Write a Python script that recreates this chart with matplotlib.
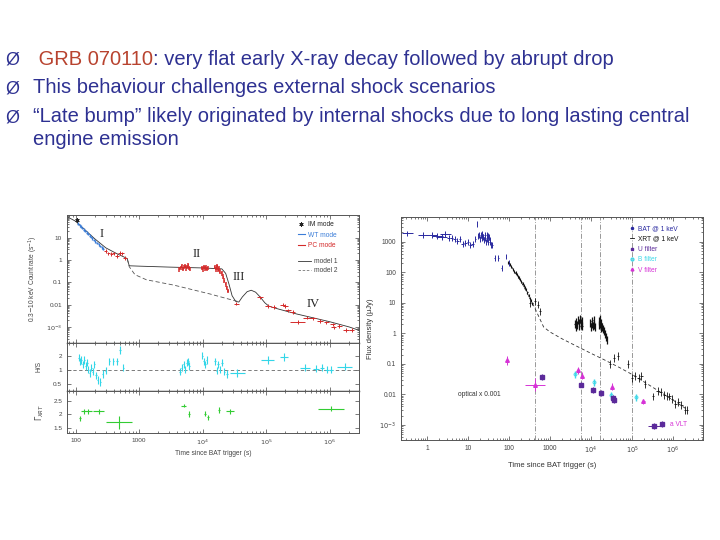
import numpy as np
import matplotlib
matplotlib.use("Agg")
import matplotlib.pyplot as plt
from matplotlib.ticker import FixedLocator, FixedFormatter, NullFormatter, NullLocator
from matplotlib.lines import Line2D

plt.rcParams['font.family'] = ['Liberation Sans', 'DejaVu Sans']

# ---------------- slide text ----------------
bullets = [
    [(" GRB 070110", "#B8432F"), (": very flat early X-ray decay followed by abrupt drop", "#2E3192")],
    [("This behaviour challenges external shock scenarios", "#2E3192")],
    [("\u201cLate bump\u201d likely originated by internal shocks due to long lasting central", "#2E3192")],
    [("engine emission", "#2E3192")],
]
bullet_marks = [True, True, True, False]

# ---------------- left figure: XRT count rate ----------------
im_t = [106]
im_r = [60]

wt_t = [110, 116, 122, 128, 135, 142, 150, 158, 166, 175, 185, 195, 206, 218, 230, 243, 257, 272]
wt_r = [42, 36, 31, 27, 23, 20, 17, 14.5, 12.5, 10.8, 9.2, 7.9, 6.7, 5.8, 5.0, 4.3, 3.7, 3.2]

pc1_t = [300, 330, 365, 400, 450, 500, 540, 600]
pc1_r = [2.6, 2.0, 1.9, 2.0, 1.5, 2.1, 2.0, 1.2]

pc2_t = [4300, 4500, 4700, 4900, 5100, 5300, 5500, 5700, 5900, 6100, 6300,
         9600, 10000, 10400, 10800, 11200, 11600, 12000,
         15500, 16000, 16500, 17000, 17500, 18000, 18500,
         20000, 21000, 22000, 23000, 24000, 25000]
pc2_r = [0.38, 0.45, 0.52, 0.40, 0.48, 0.55, 0.42, 0.50, 0.58, 0.44, 0.40,
         0.45, 0.38, 0.48, 0.42, 0.46, 0.39, 0.44,
         0.50, 0.38, 0.46, 0.55, 0.35, 0.42, 0.30,
         0.25, 0.18, 0.12, 0.08, 0.055, 0.04]

pc3_t = [3.4e4, 8.0e4, 1.05e5, 1.3e5, 1.8e5, 2.0e5, 2.2e5, 2.6e5, 3.1e5, 4.4e5,
         5.5e5, 7.0e5, 8.8e5, 1.1e6, 1.15e6, 1.4e6, 1.8e6, 2.2e6]
pc3_r = [0.011, 0.021, 0.0085, 0.0078, 0.010, 0.0085, 0.0055, 0.0046, 0.0017, 0.0026,
         0.0024, 0.0018, 0.0016, 0.0013, 0.00095, 0.0011, 0.00072, 0.00072]
pc3_xf = [1.1, 1.12, 1.12, 1.1, 1.08, 1.08, 1.1, 1.1, 1.3, 1.15,
          1.12, 1.12, 1.1, 1.1, 1.1, 1.1, 1.1, 1.1]

m1_t = [74, 100, 200, 300, 450, 600, 650, 700, 1000, 3000, 1e4, 2e4, 2.3e4, 2.6e4, 2.9e4,
        3.3e4, 3.7e4, 4.2e4, 5e4, 5.8e4, 6.8e4, 8e4, 9.5e4, 1.1e5, 1.5e5, 3e5, 6e5, 1e6, 2e6, 2.9e6]
m1_r = [87, 55, 9, 3.5, 1.9, 1.3, 1.15, 0.55, 0.53, 0.48, 0.44, 0.40, 0.25, 0.08, 0.025,
        0.014, 0.013, 0.022, 0.038, 0.044, 0.036, 0.022, 0.012, 0.0085, 0.0065, 0.0038,
        0.0024, 0.0017, 0.0010, 0.0007]

m2_t = [650, 700, 860, 1300, 3500, 1.3e4, 2.7e4, 3.5e4]
m2_r = [1.15, 0.5, 0.22, 0.13, 0.075, 0.03, 0.017, 0.014]

numeral_text = ["I", "II", "III", "IV"]
numeral_t = [260, 8100, 3.7e4, 5.4e5]
numeral_r = [15, 1.9, 0.17, 0.011]

hr_t = [112, 118, 124, 130, 137, 144, 152, 160, 168, 177, 187, 198, 210, 225, 245, 270, 300,
        340, 390, 450, 500, 560,
        4400, 4700, 5000, 5300, 5600, 5900, 6200, 9800, 10400, 11000, 11600,
        15500, 16500, 17500, 18500, 20000, 22000, 24000, 3.5e4,
        1.05e5, 1.9e5, 4e5, 6e5, 7.5e5, 9e5, 1.05e6, 1.7e6]
hr_v = [1.8, 1.5, 1.6, 1.3, 1.6, 1.2, 1.4, 1.0, 0.85, 1.1, 0.9, 1.3, 0.75, 0.6, 0.55, 0.8, 0.95,
        1.5, 1.5, 1.5, 2.6, 1.1,
        0.9, 1.1, 1.3, 1.0, 1.4, 1.5, 1.2, 2.0, 1.5, 1.3, 1.6,
        1.5, 0.95, 1.3, 1.0, 1.4, 0.9, 0.8, 0.85,
        1.6, 1.85, 1.1, 1.05, 1.1, 1.0, 1.0, 1.15]
hr_xf = [1.02] * 22 + [1.02] * 11 + [1.03] * 7 + [1.3] + [1.25, 1.15, 1.2, 1.12, 1.08, 1.08, 1.08, 1.3]

g_t = [118, 135, 160, 230, 480, 5000, 6100, 11000, 12000, 18000, 27000, 1.05e6]
g_v = [1.85, 2.1, 2.1, 2.1, 1.7, 2.32, 2.0, 2.02, 1.88, 2.15, 2.1, 2.2]
g_xf = [1.03, 1.1, 1.15, 1.2, 1.6, 1.1, 1.05, 1.04, 1.04, 1.04, 1.15, 1.6]
g_ye = [0.1, 0.1, 0.08, 0.1, 0.25, 0.07, 0.1, 0.1, 0.1, 0.1, 0.08, 0.1]

# ---------------- right figure: flux density ----------------
bat_t = [0.33, 0.8, 1.3, 1.8, 2.3, 2.8, 3.4, 4.0, 4.7, 5.5, 6.4, 7.4, 8.6, 10, 11.5, 13, 15,
         16.5, 17.5, 18.5, 19.5, 20.5, 21.5, 22.5, 23.5, 24.5, 25.5, 26.5, 27.5, 28.5, 29.5,
         30.5, 31.5, 32.5, 33.5, 35, 37, 39, 45, 55, 66, 85, 100]
bat_f = [1850, 1650, 1650, 1550, 1400, 1750, 1300, 1350, 1250, 1050, 1200, 850, 900, 1000,
         750, 850, 1200, 3900, 1500, 1700, 1200, 1600, 1300, 1800, 1400, 1100, 1600, 1350,
         1000, 1700, 1200, 1500, 950, 1400, 1100, 1000, 800, 750, 290, 300, 135, 325, 196]

xrt1_t = [96, 105, 115, 125, 135, 145, 155, 165, 175, 185, 200, 215, 230, 245, 260, 280, 300, 320, 345, 370]
xrt1_f = [200, 175, 150, 125, 105, 95, 85, 72, 65, 58, 48, 42, 36, 31, 27, 22, 17, 14, 11.5, 9.5]

xrt2_t = [330, 430, 510, 570]
xrt2_f = [9.5, 11, 8.5, 5.2]

xrt3_t = [4000, 4200, 4400, 4600, 4800, 5000, 5200, 5400, 5600, 5800, 6000, 6200,
          9600, 10000, 10400, 10800, 11200, 11600, 12000, 12400,
          15500, 16000, 16500, 17000, 17500, 18000, 19000, 20000, 21000, 22000, 23000, 24000]
xrt3_f = [2.0, 1.6, 2.4, 1.8, 2.8, 2.1, 1.7, 3.0, 2.2, 1.8, 2.6, 1.7,
          2.2, 1.6, 2.6, 2.0, 1.7, 2.8, 1.9, 1.6,
          2.5, 1.8, 2.9, 2.0, 1.5, 2.2, 1.6, 1.4, 1.2, 0.95, 0.75, 0.6]

xrt4_t = [2.9e4, 3.7e4, 4.5e4, 8e4, 1.0e5, 1.2e5, 1.45e5, 1.7e5, 2.1e5, 3.3e5, 4.2e5, 5.0e5,
          6.2e5, 7.2e5, 8.2e5, 9.5e5, 1.15e6, 1.35e6, 1.6e6, 1.95e6, 2.2e6]
xrt4_f = [0.1, 0.15, 0.18, 0.1, 0.035, 0.04, 0.035, 0.04, 0.022, 0.0085, 0.013, 0.012,
          0.0095, 0.009, 0.0085, 0.007, 0.005, 0.0055, 0.0045, 0.003, 0.003]

mod_t = [100, 200, 300, 420, 550, 700, 1000, 2000, 5000, 1e4, 2e4, 5e4, 1e5, 3e5, 1e6, 2e6]
mod_f = [200, 48, 17, 7, 3.2, 1.6, 1.1, 0.65, 0.35, 0.22, 0.14, 0.075, 0.045, 0.018, 0.0065, 0.0035]

vline_t = [430, 5700, 1.7e4, 1.0e5]

v_t = [90, 430, 4700, 6000, 3.2e4, 1.9e5]
v_f = [0.13, 0.021, 0.062, 0.04, 0.018, 0.006]
v_xf = [1.05, 1.8, 1.05, 1.05, 1.05, 1.1]
v_yf = [1.4, 1.6, 1.3, 1.3, 1.3, 1.2]

b_t = [4100, 1.2e4, 3e4, 1.25e5]
b_f = [0.045, 0.025, 0.0095, 0.008]

u_t = [650, 5600, 1.1e4, 1.8e4, 3.4e4, 3.6e4, 3.4e5, 5.4e5]
u_f = [0.036, 0.021, 0.014, 0.011, 0.0075, 0.0065, 0.00092, 0.0011]
u_xf = [1.05, 1.05, 1.05, 1.05, 1.05, 1.05, 1.4, 1.1]

# ---------------- colours ----------------
C_WT = "#3B7DD8"
C_PC = "#D42A2A"
C_HR = "#33D6E8"
C_G = "#33CC33"
C_BAT = "#2A2AA0"
C_U = "#5B2A9A"
C_B = "#3FD8E8"
C_V = "#D633D6"
TICKC = "#444444"


def cross(ax, t, v, fx, fy, color, lw=0.7, logy=True):
    """Error-bar crosses, multiplicative errors in x (and y when logy)."""
    t = np.asarray(t, float)
    v = np.asarray(v, float)
    fx = np.asarray(fx, float)
    xe = [t - t / fx, t * fx - t]
    if logy:
        fy = np.asarray(fy, float)
        ye = [v - v / fy, v * fy - v]
    else:
        ye = fy
    ax.errorbar(t, v, xerr=xe, yerr=ye, fmt='none', ecolor=color, elinewidth=lw, capsize=0)


def style_axes(ax, fs=4.6):
    ax.tick_params(which='both', direction='in', top=True, right=True,
                   labelsize=fs, colors=TICKC, width=0.5)
    ax.tick_params(which='major', length=3)
    ax.tick_params(which='minor', length=1.6)
    for s in ax.spines.values():
        s.set_linewidth(0.7)
        s.set_color("#555555")


fig = plt.figure(figsize=(7.2, 5.4), dpi=100)
fig.patch.set_facecolor("white")

# text layer (pixel coordinates)
tax = fig.add_axes([0, 0, 1, 1])
tax.set_xlim(0, 720)
tax.set_ylim(540, 0)
tax.axis('off')
tax.patch.set_visible(False)

baselines = [64.8, 93.2, 122.5, 145.3]
renderer = fig.canvas.get_renderer()
for parts, y, mark in zip(bullets, baselines, bullet_marks):
    if mark:
        tax.text(5, y, "\u00d8", fontsize=13, color="#2E3192", va='baseline', ha='left')
    x = 33
    for s, c in parts:
        t = tax.text(x, y, s, fontsize=14.5, color=c, va='baseline', ha='left')
        bb = t.get_window_extent(renderer=renderer)
        x = bb.x1

# ---- left figure axes ----
L, W = 67 / 720, 292 / 720
ax1 = fig.add_axes([L, (540 - 343) / 540, W, 128 / 540])
ax2 = fig.add_axes([L, (540 - 391) / 540, W, 48 / 540], sharex=ax1)
ax3 = fig.add_axes([L, (540 - 433) / 540, W, 42 / 540], sharex=ax1)

for ax in (ax1, ax2, ax3):
    ax.set_xscale('log')
    style_axes(ax)
ax1.set_xlim(73.5, 2.87e6)

ax1.set_yscale('log')
ax1.set_ylim(1.9e-4, 104)
ax1.plot(m1_t, m1_r, color="#333333", lw=0.6)
ax1.plot(m2_t, m2_r, color="#555555", lw=0.6, ls=(0, (5, 3)))
cross(ax1, wt_t, wt_r, 1.03, 1.15, C_WT, lw=0.9)
ax1.plot(im_t, im_r, marker=(6, 2, 0), color="#222222", ms=3, mew=0.6, ls='none')
cross(ax1, pc1_t, pc1_r, 1.06, 1.2, C_PC, lw=0.7)
cross(ax1, pc2_t, pc2_r, 1.02, 1.25, C_PC, lw=1.1)
cross(ax1, pc3_t, pc3_r, pc3_xf, 1.2, C_PC, lw=0.7)
for s, t, r in zip(numeral_text, numeral_t, numeral_r):
    ax1.text(t, r, s, family='Liberation Serif', fontsize=9, color="#222222",
             ha='center', va='center')
ax1.yaxis.set_major_locator(FixedLocator([1e-3, 1e-2, 0.1, 1, 10]))
ax1.yaxis.set_major_formatter(FixedFormatter([r"$10^{-3}$", "0.01", "0.1", "1", "10"]))
ax1.set_ylabel(r"0.3$-$10 keV Count rate (s$^{-1}$)", fontsize=4.8, color=TICKC, labelpad=4)
plt.setp(ax1.get_xticklabels(), visible=False)

h1 = [Line2D([], [], marker=(6, 2, 0), color="#222222", ls='none', ms=3, mew=0.6),
      Line2D([], [], color=C_WT, lw=0.8),
      Line2D([], [], color=C_PC, lw=0.8)]
leg1 = ax1.legend(h1, ["IM mode", "WT mode", "PC mode"], loc='upper left',
                  bbox_to_anchor=(0.77, 1.0), fontsize=4.8, frameon=False,
                  handlelength=1.0, handletextpad=0.5, labelspacing=0.55,
                  labelcolor=["#222222", C_WT, C_PC])
ax1.add_artist(leg1)
h2 = [Line2D([], [], color="#333333", lw=0.6),
      Line2D([], [], color="#777777", lw=0.6, ls=(0, (3, 2)))]
ax1.legend(h2, ["model 1", "model 2"], loc='upper left', bbox_to_anchor=(0.77, 0.71),
           fontsize=4.8, frameon=False, handlelength=2.0, handletextpad=0.4,
           labelspacing=0.3, labelcolor="#444444")

ax2.set_yscale('log')
ax2.set_ylim(0.35, 3.7)
ax2.axhline(1.0, color="#666666", lw=0.6, ls=(0, (4, 3)))
cross(ax2, hr_t, hr_v, hr_xf, 1.2, C_HR, lw=0.8)
ax2.yaxis.set_major_locator(FixedLocator([0.5, 1, 2]))
ax2.yaxis.set_major_formatter(FixedFormatter(["0.5", "1", "2"]))
ax2.yaxis.set_minor_locator(NullLocator())
ax2.yaxis.set_minor_formatter(NullFormatter())
ax2.set_ylabel("H/S", fontsize=4.8, color=TICKC, labelpad=8)
plt.setp(ax2.get_xticklabels(), visible=False)

ax3.set_ylim(1.3, 2.86)
cross(ax3, g_t, g_v, g_xf, g_ye, C_G, lw=0.8, logy=False)
ax3.yaxis.set_major_locator(FixedLocator([1.5, 2, 2.5]))
ax3.yaxis.set_major_formatter(FixedFormatter(["1.5", "2", "2.5"]))
ax3.set_ylabel(r"$\Gamma_{XRT}$", fontsize=5.5, color=TICKC, labelpad=5)
ax3.xaxis.set_major_locator(FixedLocator([100, 1000, 1e4, 1e5, 1e6]))
ax3.xaxis.set_major_formatter(FixedFormatter(["100", "1000", r"$10^4$", r"$10^5$", r"$10^6$"]))
ax3.xaxis.set_minor_formatter(NullFormatter())
ax3.set_xlabel("Time since BAT trigger (s)", fontsize=4.8, color=TICKC, labelpad=2)
for ax in (ax1, ax2):
    ax.spines['bottom'].set_linewidth(1.0)
    ax.spines['bottom'].set_color("#222222")

# ---- right figure axes ----
axr = fig.add_axes([401 / 720, 100 / 540, 302 / 720, 223 / 540])
axr.set_xscale('log')
axr.set_yscale('log')
style_axes(axr, fs=4.8)
axr.set_xlim(0.232, 5.4e6)
axr.set_ylim(3.2e-4, 6400)
for t in vline_t:
    axr.axvline(t, color="#888888", lw=0.6, ls=(0, (6, 2, 1, 2)))
axr.plot(mod_t, mod_f, color="#333333", lw=0.6, ls=(0, (4, 3)))
bt = np.asarray(bat_t)
bat_xf = np.where(bt < 3, 1.35, np.where(bt < 15, 1.08, 1.02))
cross(axr, bat_t, bat_f, bat_xf, 1.25, C_BAT, lw=0.7)
cross(axr, xrt1_t, xrt1_f, 1.02, 1.12, "#111111", lw=0.8)
cross(axr, xrt2_t, xrt2_f, 1.05, 1.3, "#111111", lw=0.6)
cross(axr, xrt3_t, xrt3_f, 1.015, 1.35, "#111111", lw=0.9)
cross(axr, xrt4_t, xrt4_f, 1.07, 1.35, "#111111", lw=0.6)
cross(axr, b_t, b_f, 1.04, 1.3, C_B, lw=1.0)
axr.plot(b_t, b_f, 'o', mfc='none', mec=C_B, ms=2.2, mew=0.6)
cross(axr, u_t, u_f, u_xf, 1.25, C_U, lw=0.7)
axr.plot(u_t, u_f, 's', color=C_U, ms=2.2)
cross(axr, v_t, v_f, v_xf, v_yf, C_V, lw=0.7)
axr.plot(v_t, v_f, '^', color=C_V, ms=2.6)
axr.text(5.8, 0.01, "optical x 0.001", fontsize=4.8, color="#333333", ha='left', va='center')
axr.text(8.5e5, 0.001, "a VLT", fontsize=4.8, color=C_V, ha='left', va='center')
axr.xaxis.set_major_locator(FixedLocator([1, 10, 100, 1000, 1e4, 1e5, 1e6]))
axr.xaxis.set_major_formatter(FixedFormatter(["1", "10", "100", "1000", r"$10^4$", r"$10^5$", r"$10^6$"]))
axr.xaxis.set_minor_formatter(NullFormatter())
axr.yaxis.set_major_locator(FixedLocator([1e-3, 1e-2, 0.1, 1, 10, 100, 1000]))
axr.yaxis.set_major_formatter(FixedFormatter([r"$10^{-3}$", "0.01", "0.1", "1", "10", "100", "1000"]))
axr.yaxis.set_minor_formatter(NullFormatter())
axr.set_xlabel("Time since BAT trigger (s)", fontsize=5.5, color="#333333", labelpad=4)
axr.set_ylabel("Flux density (\u03bcJy)", fontsize=5.5, color="#333333", labelpad=4)

hr_handles = [Line2D([], [], marker='o', color=C_BAT, ls='none', ms=1.5),
              Line2D([], [], color="#111111", lw=0.6),
              Line2D([], [], marker='s', color=C_U, ls='none', ms=2),
              Line2D([], [], marker='o', mfc='none', mec=C_B, ls='none', ms=2),
              Line2D([], [], marker='^', color=C_V, ls='none', ms=2)]
axr.legend(hr_handles, ["BAT @ 1 keV", "XRT @ 1 keV", "U filter", "B filter", "V filter"],
           loc='upper left', bbox_to_anchor=(0.74, 0.99), fontsize=4.8, frameon=False,
           handlelength=0.6, handletextpad=0.6, labelspacing=0.5,
           labelcolor=[C_BAT, "#111111", C_U, C_B, C_V])

fig.savefig("out.png", dpi=100)
